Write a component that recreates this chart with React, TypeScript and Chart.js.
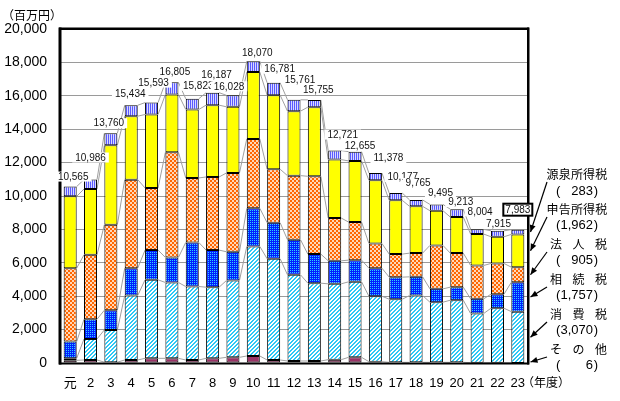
import React, { useEffect, useRef } from "react";
import { Chart, registerables } from "chart.js";

Chart.register(...registerables);

// ---- data (百万円) ----
const years = ["元", "2", "3", "4", "5", "6", "7", "8", "9", "10", "11", "12", "13", "14", "15", "16", "17", "18", "19", "20", "21", "22", "23"];
const totals = [10565, 10986, 13760, 15434, 15593, 16805, 15823, 16187, 16028, 18070, 16781, 15761, 15755, 12721, 12655, 11378, 10177, 9765, 9495, 9213, 8004, 7915, 7983];
const sonota = [160, 180, 50, 180, 280, 280, 180, 280, 340, 420, 180, 120, 120, 200, 340, 80, 40, 40, 40, 40, 20, 20, 6];
const shohi = [120, 1260, 1930, 3860, 4700, 4540, 4400, 4260, 4600, 6560, 6060, 5160, 4660, 4540, 4520, 3920, 3780, 4000, 3600, 3720, 2940, 3260, 3070];
const sozoku = [1000, 1180, 1180, 1640, 1780, 1500, 2640, 2220, 1720, 2280, 2160, 2100, 1740, 1380, 1300, 1680, 1320, 1120, 800, 780, 880, 840, 1757];
const hojin = [4400, 3860, 5120, 5300, 3720, 6300, 3860, 4380, 4720, 4160, 3200, 3840, 4660, 2560, 2280, 1480, 1380, 1420, 2600, 2040, 2000, 1840, 905];
const shinkoku = [4300, 3940, 4760, 3800, 4400, 3460, 4100, 4300, 3960, 4000, 4440, 3860, 4140, 3500, 3660, 3780, 3220, 2800, 2080, 2160, 1880, 1600, 1962];
const gensen = [585, 566, 720, 654, 713, 725, 643, 747, 688, 650, 741, 681, 435, 541, 555, 438, 437, 385, 375, 473, 284, 355, 283];
const yTicks = [0, 2000, 4000, 6000, 8000, 10000, 12000, 14000, 16000, 18000, 20000];

const legendNames = ["源泉所得税", "申告所得税", "法人税", "相続税", "消費税", "その他"];
const legendValues = [283, 1962, 905, 1757, 3070, 6];

// ---- layout constants (label nudges, px) ----
const labelDx = [3, 0, -2, -1, 2, 3, 6, 4, -4, 4, 6, 6, 4, 8, 5, 13, 7, 2, 4, 4, 3, 1, 0];
const labelDy = [-10, -22, -10, -12, -20, -11, -13, -18, -9, -8, -14, -20, -10, -16, -6, -15, -16, -17, -12, -7, -18, -7, -20];

const FONT = "'Liberation Sans', Arial, 'Noto Sans CJK JP', sans-serif";
const JFONT = "'Noto Sans CJK JP', 'Liberation Sans', sans-serif";

function makePattern(w: number, h: number, fn: (g: CanvasRenderingContext2D) => void) {
  const c = document.createElement("canvas");
  c.width = w;
  c.height = h;
  const g = c.getContext("2d")!;
  fn(g);
  return g.createPattern(c, "repeat")!;
}

function fmt(v: number) {
  return v.toLocaleString("en-US");
}

export default function App() {
  const ref = useRef<HTMLCanvasElement | null>(null);

  useEffect(() => {
    const canvas = ref.current!;
    const cyanHatch = makePattern(4, 4, (g) => {
      g.fillStyle = "#ffffff";
      g.fillRect(0, 0, 4, 4);
      g.fillStyle = "#2ec8f5";
      for (let x = 0; x < 4; x++)
        for (let y = 0; y < 4; y++) if ((x + y) % 4 < 2) g.fillRect(x, y, 1, 1);
    });
    const blueDots = makePattern(2, 2, (g) => {
      g.fillStyle = "#0020ff";
      g.fillRect(0, 0, 2, 2);
      g.fillStyle = "#33ccff";
      g.fillRect(0, 0, 1, 1);
    });
    const orangeCheck = makePattern(4, 4, (g) => {
      g.fillStyle = "#ff6600";
      g.fillRect(0, 0, 4, 4);
      g.fillStyle = "#ffd8b8";
      g.fillRect(0, 0, 2, 2);
      g.fillRect(2, 2, 2, 2);
    });
    const purpleStripe = makePattern(2, 2, (g) => {
      g.fillStyle = "#5a5aff";
      g.fillRect(0, 0, 2, 2);
      g.fillStyle = "#d8d8ff";
      g.fillRect(1, 0, 1, 2);
    });

    const seriesData = [sonota, shohi, sozoku, hojin, shinkoku, gensen];
    const fills: any[] = ["#993366", cyanHatch, blueDots, orangeCheck, "#ffff00", purpleStripe];
    const names = ["その他", "消費税", "相続税", "法人税", "申告所得税", "源泉所得税"];

    const extras = {
      id: "extras",
      beforeDatasetsDraw(chart: any) {
        const ctx = chart.ctx as CanvasRenderingContext2D;
        ctx.save();
        ctx.strokeStyle = "#a0a0a0";
        ctx.lineWidth = 1;
        chart.data.datasets.forEach((_: any, di: number) => {
          const meta = chart.getDatasetMeta(di);
          for (let i = 0; i < meta.data.length - 1; i++) {
            const a = meta.data[i];
            const b = meta.data[i + 1];
            ctx.beginPath();
            ctx.moveTo(a.x + a.width / 2, a.y);
            ctx.lineTo(b.x - b.width / 2, b.y);
            ctx.stroke();
          }
        });
        ctx.restore();
      },
      afterDatasetsDraw(chart: any) {
        const ctx = chart.ctx as CanvasRenderingContext2D;
        const { left, right, top, bottom } = chart.chartArea;
        ctx.save();
        // frame
        ctx.fillStyle = "#000";
        ctx.fillRect(left - 1, top - 1.5, right - left + 2, 2.5);
        ctx.fillRect(left - 1.5, top - 1.5, 3, bottom - top + 3);
        ctx.fillRect(right - 1, top - 1.5, 2.5, bottom - top + 3);
        ctx.fillRect(left - 1, bottom - 0.5, right - left + 2, 2);

        // total labels
        const topMeta = chart.getDatasetMeta(chart.data.datasets.length - 1);
        ctx.font = `10px ${FONT}`;
        ctx.textAlign = "center";
        ctx.textBaseline = "middle";
        const n = totals.length;
        for (let i = 0; i < n; i++) {
          const el = topMeta.data[i];
          const cx = el.x + labelDx[i];
          const cy = el.y + labelDy[i];
          const t = fmt(totals[i]);
          const tw = ctx.measureText(t).width;
          if (i === n - 1) {
            ctx.fillStyle = "#fff";
            ctx.fillRect(cx - 14.5, cy - 6, 29, 12);
            ctx.strokeStyle = "#000";
            ctx.lineWidth = 2;
            ctx.strokeRect(cx - 14.5, cy - 6, 29, 12);
          } else {
            ctx.fillStyle = "#fff";
            ctx.fillRect(cx - tw / 2 - 3, cy - 5, tw + 6, 10);
          }
          ctx.fillStyle = "#111";
          ctx.fillText(t, cx, cy + 0.5);
        }

        // axis titles
        ctx.fillStyle = "#000";
        ctx.textAlign = "left";
        ctx.font = `12px ${JFONT}`;
        ctx.fillText("（百万円）", 2, 15);
        ctx.fillText("（年度）", right - 6, 382);

        // legend with arrows
        const lastIdx = n - 1;
        for (let k = 0; k < 6; k++) {
          const nameY = 174 + 35 * k;
          const valY = 191 + 34.8 * k;
          const name = legendNames[k];
          ctx.font = `12px ${JFONT}`;
          ctx.textAlign = "center";
          ctx.fillStyle = "#000";
          const chars = Array.from(name);
          if (chars.length === 5) {
            chars.forEach((c, j) => ctx.fillText(c, 552.5 + j * 12.2, nameY));
          } else {
            chars.forEach((c, j) => ctx.fillText(c, 556 + j * 22.5, nameY));
          }
          ctx.font = `13px ${FONT}`;
          ctx.textAlign = "left";
          ctx.fillText("(", 556, valY);
          ctx.textAlign = "right";
          ctx.fillText(")", 598, valY);
          ctx.fillText(fmt(legendValues[k]), 593, valY);

          // arrow to the matching segment of the last bar
          const di = 5 - k;
          const el = chart.getDatasetMeta(di).data[lastIdx];
          const ex = right + 2.5;
          const ey = Math.min((el.y + el.base) / 2, bottom - 1);
          const sx = 547;
          const sy = nameY + 8;
          ctx.strokeStyle = "#000";
          ctx.lineWidth = 1.2;
          ctx.beginPath();
          ctx.moveTo(sx, sy);
          ctx.lineTo(ex, ey);
          ctx.stroke();
          const ang = Math.atan2(ey - sy, ex - sx);
          const L = 7, W = 3;
          ctx.beginPath();
          ctx.moveTo(ex, ey);
          ctx.lineTo(ex - L * Math.cos(ang) + W * Math.sin(ang), ey - L * Math.sin(ang) - W * Math.cos(ang));
          ctx.lineTo(ex - L * Math.cos(ang) - W * Math.sin(ang), ey - L * Math.sin(ang) + W * Math.cos(ang));
          ctx.closePath();
          ctx.fillStyle = "#000";
          ctx.fill();
        }
        ctx.restore();
      },
    };

    const chart = new Chart(canvas, {
      type: "bar",
      data: {
        labels: years,
        datasets: seriesData.map((d, i) => ({
          label: names[i],
          data: d,
          backgroundColor: fills[i],
          borderColor: "#000",
          borderWidth: 1,
          borderSkipped: false,
          barPercentage: 0.64,
          categoryPercentage: 1,
        })),
      },
      options: {
        responsive: false,
        animation: false,
        locale: "en-US",
        devicePixelRatio: 1,
        layout: { padding: { left: 0, right: 92, top: 29, bottom: 0 } },
        plugins: { legend: { display: false }, tooltip: { enabled: false }, title: { display: false } },
        scales: {
          x: {
            stacked: true,
            offset: true,
            grid: { display: false, drawTicks: false },
            border: { display: false },
            ticks: { color: "#000", font: { family: FONT, size: 13 }, padding: 13, maxRotation: 0, autoSkip: false },
            afterFit: (s: any) => {
              s.height = 38;
            },
          },
          y: {
            stacked: true,
            min: 0,
            max: 20000,
            afterBuildTicks: (s: any) => {
              s.ticks = yTicks.map((v) => ({ value: v }));
            },
            grid: { color: "#9a9a9a", lineWidth: 1, drawTicks: false },
            border: { display: false },
            ticks: { color: "#000", font: { family: FONT, size: 14 }, padding: 13 },
            afterFit: (s: any) => {
              s.width = 60;
            },
          },
        },
      },
      plugins: [extras],
    } as any);
    return () => chart.destroy();
  }, []);

  return (
    <div style={{ position: "fixed", left: 0, top: 0, width: 620, height: 401, background: "#fff" }}>
      <canvas ref={ref} width={620} height={401} />
    </div>
  );
}
